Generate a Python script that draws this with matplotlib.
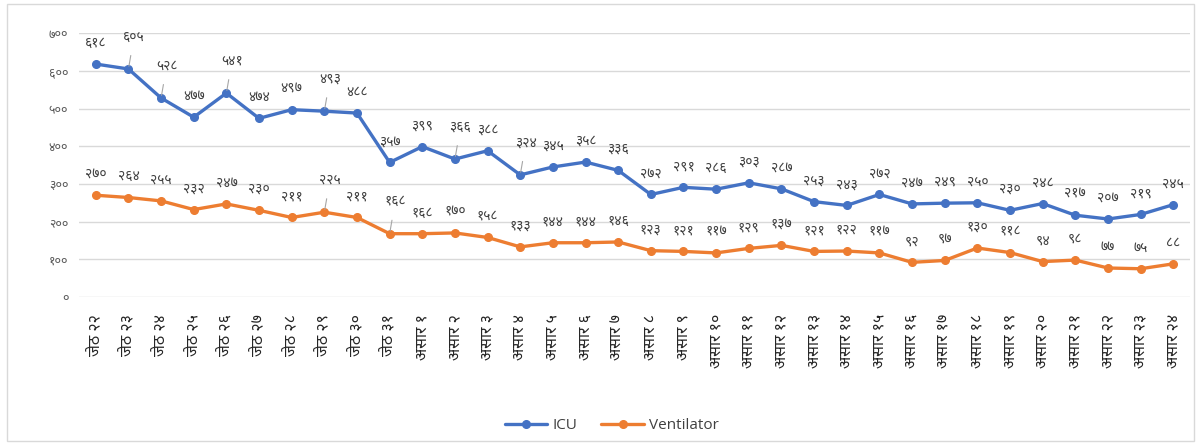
import matplotlib
matplotlib.use("Agg")
import matplotlib.pyplot as plt
from matplotlib import font_manager
from matplotlib.patches import Rectangle

# data
days = ["जेठ २२", "जेठ २३", "जेठ २४", "जेठ २५", "जेठ २६", "जेठ २७", "जेठ २८",
        "जेठ २९", "जेठ ३०", "जेठ ३१",
        "असार १", "असार २", "असार ३", "असार ४", "असार ५", "असार ६", "असार ७",
        "असार ८", "असार ९", "असार १०", "असार ११", "असार १२", "असार १३",
        "असार १४", "असार १५", "असार १६", "असार १७", "असार १८", "असार १९",
        "असार २०", "असार २१", "असार २२", "असार २३", "असार २४"]
icu = [618, 605, 528, 477, 541, 474, 497, 493, 488, 357, 399, 366, 388, 324,
       345, 358, 336, 272, 291, 286, 303, 287, 253, 243, 272, 247, 249, 250,
       230, 248, 217, 207, 219, 245]
ventilator = [270, 264, 255, 232, 247, 230, 211, 225, 211, 168, 168, 170, 158,
              133, 144, 144, 146, 123, 121, 117, 129, 137, 121, 122, 117, 92,
              97, 130, 118, 94, 98, 77, 75, 88]
yticks = [0, 100, 200, 300, 400, 500, 600, 700]

# labels pushed up with a leader line in the original
icu_leader = [1, 2, 4, 7, 11, 13]
vent_leader = [7, 9]

DEV = str.maketrans("0123456789", "०१२३४५६७८९")


def dev(n):
    return str(n).translate(DEV)


available = {f.name for f in font_manager.fontManager.ttflist}
dev_font = next((f for f in ["Noto Sans Devanagari", "Hind", "Mukta",
                             "Anek Devanagari", "Annapurna SIL"]
                 if f in available), "DejaVu Sans")
plt.rcParams['font.family'] = [dev_font, 'DejaVu Sans']

BLUE = "#4472C4"
ORANGE = "#ED7D31"

fig = plt.figure(figsize=(12.04, 4.48), dpi=100)
ax = fig.add_axes([0.066, 0.337, 0.922, 0.589])
x = list(range(len(days)))

ax.plot(x, icu, color=BLUE, lw=2.4, marker="o", ms=5.5, label="ICU",
        solid_capstyle="round", zorder=3)
ax.plot(x, ventilator, color=ORANGE, lw=2.4, marker="o", ms=5.5,
        label="Ventilator", solid_capstyle="round", zorder=3)


def put_labels(vals, leaders):
    for i, v in enumerate(vals):
        if i in leaders:
            ax.annotate(dev(v), (i, v), xytext=(4, 23), textcoords="offset points",
                        ha="center", va="center", fontsize=10, color="#404040",
                        arrowprops=dict(arrowstyle="-", color="#a6a6a6", lw=0.8,
                                        shrinkA=6, shrinkB=2))
        else:
            ax.annotate(dev(v), (i, v), xytext=(0, 15), textcoords="offset points",
                        ha="center", va="center", fontsize=10, color="#404040")


put_labels(icu, icu_leader)
put_labels(ventilator, vent_leader)

ax.set_xlim(-0.5, len(days) - 0.5)
ax.set_ylim(0, 700)
ax.set_yticks(yticks)
ax.set_yticklabels([dev(t) for t in yticks], fontsize=9, color="#595959")
ax.set_xticks(x)
ax.set_xticklabels(days, rotation=90, fontsize=11.5, color="#262626")
ax.tick_params(axis="y", length=0, pad=8)
ax.tick_params(axis="x", length=0, pad=12)
ax.grid(axis="y", color="#d9d9d9", lw=1)
ax.set_axisbelow(True)
for s in ax.spines.values():
    s.set_visible(False)

leg = fig.legend(loc="center", bbox_to_anchor=(0.508, 0.05), ncol=2, frameon=False,
                 prop={"family": "Open Sans", "size": 11}, handlelength=2.8,
                 columnspacing=1.6, handletextpad=0.3)
for t in leg.get_texts():
    t.set_color("#404040")

fig.patches.append(Rectangle((0.006, 0.015), 0.986, 0.975, transform=fig.transFigure,
                             fill=False, edgecolor="#d9d9d9", lw=1))

fig.savefig("out.png", dpi=100)
